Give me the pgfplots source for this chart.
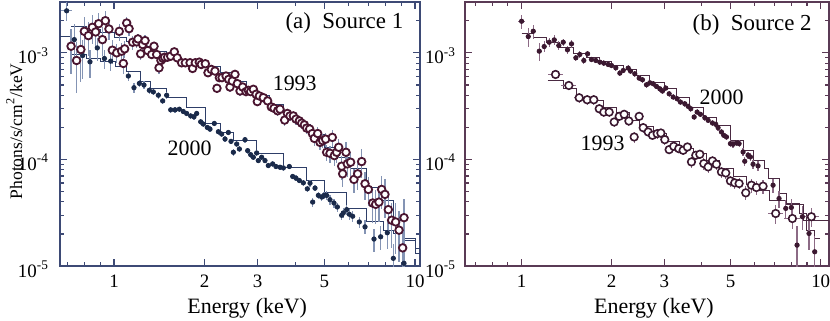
\documentclass[border=0pt]{standalone}
\usepackage{fontspec}
\setmainfont{Liberation Serif}
\usepackage{pgfplots}
\pgfplotsset{compat=1.18}

\definecolor{framea}{HTML}{3D4A75}
\definecolor{dota}{HTML}{1A2A4A}
\definecolor{circa}{HTML}{4A1530}
\definecolor{erra}{HTML}{8494B4}
\definecolor{moda}{HTML}{2E3E68}
\definecolor{frameb}{HTML}{5A3A55}
\definecolor{dotb}{HTML}{3B1830}
\definecolor{errb}{HTML}{8C6A85}
\definecolor{modb}{HTML}{4A2A42}

\begin{document}
\begin{tikzpicture}
\path[use as bounding box] (0,0) rectangle (415bp,160.5bp);

% (a) Source 1
\begin{axis}[
  xmode=log, ymode=log, scale only axis,
  at={(30bp,27.5bp)}, anchor=south west, width=180bp, height=132bp,
  xmin=0.6615, xmax=10.39, ymin=1e-5, ymax=3e-3,
  xtick={1,2,3,5,10}, xticklabels={1,2,3,5,10},
  minor xtick={0.7,0.8,0.9,4,6,7,8,9},
  ytick={1e-5,1e-4,1e-3},
  yticklabels={10\textsuperscript{-5},10\textsuperscript{-4},10\textsuperscript{-3}},
  minor ytick={2e-5,3e-5,4e-5,5e-5,6e-5,7e-5,8e-5,9e-5,2e-4,3e-4,4e-4,5e-4,6e-4,7e-4,8e-4,9e-4,2e-3},
  tick align=inside, major tick length=3.3bp, minor tick length=1.8bp,
  axis line style={framea, line width=0.8bp},
  tick style={framea, line width=0.6bp},
  xticklabel style={font=\fontsize{9.5}{11}\selectfont, yshift=-1bp},
  yticklabel style={font=\fontsize{9.5}{11}\selectfont, xshift=-2bp, yshift=-1.5bp},
  xlabel={Energy (keV)},
  xlabel style={font=\fontsize{11}{13}\selectfont, at={(axis description cs:0.52,0)}, anchor=center, yshift=-21bp},
  ylabel={Photons/s/cm\textsuperscript{2}/keV},
  ylabel style={font=\fontsize{8.8}{10}\selectfont, at={(axis description cs:-0.127,0.51)}, anchor=center},
]
% models
\addplot[const plot, moda, line width=0.5bp] coordinates {
(0.720,1.773e-3) (0.811,1.651e-3) (0.899,1.537e-3) (1.003,1.380e-3) (1.102,1.285e-3)
(1.220,1.154e-3) (1.351,1.037e-3) (1.496,9.31e-4) (1.657,8.67e-4) (1.835,8.07e-4)
(2.011,7.51e-4) (2.250,6.51e-4) (2.492,5.44e-4) (2.760,4.55e-4) (2.978,3.94e-4)
(3.298,3.30e-4) (3.653,2.66e-4) (4.046,2.145e-4) (4.479,1.73e-4) (4.986,1.30e-4)
(5.492,1.048e-4) (6.083,8.15e-5) (6.910,5.50e-5) (7.651,4.13e-5) (8.472,2.69e-5)
(9.146,1.75e-5) (10.0,1.31e-5) (10.4,1.31e-5)};
\addplot[const plot, moda, line width=0.5bp] coordinates {
(0.662,1.431e-3) (0.720,9.65e-4) (0.811,8.85e-4) (0.899,8.36e-4) (1.008,7.51e-4)
(1.102,6.65e-4) (1.220,5.44e-4) (1.317,4.65e-4) (1.496,3.80e-4) (1.743,3.10e-4)
(2.011,2.176e-4) (2.250,1.79e-4) (2.492,1.50e-4) (2.978,1.125e-4) (3.653,8.45e-5)
(4.365,6.34e-5) (4.986,4.94e-5) (5.929,3.45e-5) (6.910,2.59e-5) (7.849,2.17e-5)
(8.472,2.02e-5) (9.146,1.81e-5) (10.0,1.46e-5) (10.4,1.46e-5)};
% 2000
\addplot[only marks, mark=*, mark size=1.1bp, mark options={dota},
  error bars/.cd, x dir=both, x explicit relative, y dir=both, y explicit relative,
  error mark=none, error bar style={erra, line width=0.6bp}] coordinates {
(0.696,2.48e-3) +- (0.04,0.2)
(0.738,1.331e-3) +- (0.015,0.4)
(0.787,9.44e-4) +- (0.015,0.4)
(0.832,8.24e-4) +- (0.015,0.3)
(0.880,1.113e-3) +- (0.015,0.25)
(0.929,8.85e-4) +- (0.015,0.2)
(0.975,8.36e-4) +- (0.015,0.2)
(1.116,6.06e-4) +- (0.015,0.1)
(1.165,4.71e-4) +- (0.015,0.1)
(1.214,5.17e-4) +- (0.015,0.08)
(1.258,4.99e-4) +- (0.015,0.08)
(1.310,4.45e-4) +- (0.015,0.07)
(1.351,4.30e-4) +- (0.015,0.07)
(1.404,4.00e-4) +- (0.015,0.07)
(1.451,3.54e-4) +- (0.015,0.07)
(1.496,4.00e-4) +- (0.015,0.07)
(1.543,2.92e-4) +- (0.015,0.06)
(1.595,2.92e-4) +- (0.015,0.06)
(1.648,2.96e-4) +- (0.015,0.06)
(1.699,2.815e-4) +- (0.015,0.06)
(1.743,2.70e-4) +- (0.015,0.06)
(1.798,2.56e-4) +- (0.015,0.06)
(1.844,2.51e-4) +- (0.015,0.06)
(1.882,2.70e-4) +- (0.015,0.06)
(1.941,2.255e-4) +- (0.015,0.06)
(1.981,2.145e-4) +- (0.015,0.06)
(2.042,1.995e-4) +- (0.015,0.06)
(2.084,1.926e-4) +- (0.015,0.06)
(2.154,2.176e-4) +- (0.015,0.06)
(2.222,1.82e-4) +- (0.015,0.06)
(2.279,1.73e-4) +- (0.015,0.06)
(2.338,1.553e-4) +- (0.015,0.06)
(2.398,1.79e-4) +- (0.015,0.06)
(2.447,1.477e-4) +- (0.015,0.06)
(2.492,1.167e-4) +- (0.015,0.07)
(2.556,1.395e-4) +- (0.015,0.06)
(2.609,1.253e-4) +- (0.015,0.06)
(2.724,1.532e-4) +- (0.015,0.06)
(2.780,1.209e-4) +- (0.015,0.06)
(2.844,1.109e-4) +- (0.015,0.06)
(2.903,1.048e-4) +- (0.015,0.06)
(2.978,1.15e-4) +- (0.015,0.06)
(3.016,9.75e-5) +- (0.015,0.06)
(3.094,1.048e-4) +- (0.015,0.06)
(3.174,9.75e-5) +- (0.015,0.06)
(3.256,8.76e-5) +- (0.015,0.06)
(3.366,9.08e-5) +- (0.015,0.06)
(3.452,8.58e-5) +- (0.015,0.06)
(3.561,8.45e-5) +- (0.015,0.06)
(3.653,8.33e-5) +- (0.015,0.06)
(3.824,8.58e-5) +- (0.015,0.06)
(3.923,6.92e-5) +- (0.015,0.06)
(4.024,6.67e-5) +- (0.015,0.06)
(4.128,6.34e-5) +- (0.015,0.06)
(4.256,6.03e-5) +- (0.015,0.07)
(4.388,5.30e-5) +- (0.015,0.07)
(4.479,5.99e-5) +- (0.015,0.07)
(4.571,3.98e-5) +- (0.015,0.1)
(4.654,5.38e-5) +- (0.015,0.07)
(4.774,4.60e-5) +- (0.015,0.08)
(4.898,4.43e-5) +- (0.015,0.08)
(4.986,4.60e-5) +- (0.015,0.08)
(5.087,4.60e-5) +- (0.015,0.1)
(5.218,4.19e-5) +- (0.015,0.1)
(5.381,3.90e-5) +- (0.015,0.1)
(5.521,3.58e-5) +- (0.015,0.1)
(5.706,2.99e-5) +- (0.015,0.1)
(5.779,3.15e-5) +- (0.015,0.1)
(5.929,3.38e-5) +- (0.015,0.1)
(6.050,3.06e-5) +- (0.015,0.12)
(6.207,2.93e-5) +- (0.015,0.12)
(6.531,2.59e-5) +- (0.015,0.12)
(6.823,2.33e-5) +- (0.015,0.15)
(7.308,1.79e-5) +- (0.015,0.25)
(7.690,1.88e-5) +- (0.015,0.25)
(8.091,2.05e-5) +- (0.015,0.3)
(8.472,1.18e-5) +- (0.015,0.35)
(9.194,1.06e-5) +- (0.015,0.4)
};
% 1993
\addplot[only marks, mark=*, mark size=1.9bp, mark options={draw=circa, fill=white, line width=0.9bp},
  error bars/.cd, x dir=both, x explicit relative, y dir=both, y explicit relative,
  error mark=none, error bar style={erra, line width=0.6bp}] coordinates {
(0.720,1.154e-3) +- (0.015,0.45)
(0.751,8.48e-4) +- (0.015,0.5)
(0.776,1.074e-3) +- (0.015,0.5)
(0.797,1.592e-3) +- (0.015,0.35)
(0.822,1.451e-3) +- (0.015,0.35)
(0.847,1.736e-3) +- (0.015,0.3)
(0.869,1.570e-3) +- (0.015,0.3)
(0.889,1.878e-3) +- (0.015,0.25)
(0.915,1.331e-3) +- (0.015,0.3)
(0.936,2.003e-3) +- (0.015,0.22)
(0.962,1.675e-3) +- (0.015,0.22)
(0.987,1.059e-3) +- (0.015,0.25)
(1.021,1.000e-3) +- (0.015,0.2)
(1.041,1.592e-3) +- (0.015,0.18)
(1.060,1.037e-3) +- (0.015,0.2)
(1.074,7.95e-4) +- (0.015,0.2)
(1.085,1.090e-3) +- (0.015,0.18)
(1.102,1.905e-3) +- (0.015,0.15)
(1.122,1.687e-3) +- (0.015,0.15)
(1.153,1.257e-3) +- (0.015,0.15)
(1.189,1.266e-3) +- (0.015,0.12)
(1.201,1.351e-3) +- (0.015,0.12)
(1.226,9.79e-4) +- (0.015,0.12)
(1.245,1.196e-3) +- (0.015,0.12)
(1.268,1.303e-3) +- (0.015,0.12)
(1.294,1.051e-3) +- (0.015,0.12)
(1.334,9.65e-4) +- (0.015,0.1)
(1.358,1.154e-3) +- (0.015,0.1)
(1.386,9.65e-4) +- (0.015,0.1)
(1.411,7.24e-4) +- (0.015,0.12)
(1.432,8.48e-4) +- (0.015,0.1)
(1.455,8.85e-4) +- (0.015,0.1)
(1.473,9.11e-4) +- (0.015,0.1)
(1.507,9.11e-4) +- (0.015,0.08)
(1.543,9.31e-4) +- (0.015,0.08)
(1.586,1.022e-3) +- (0.015,0.08)
(1.622,8.98e-4) +- (0.015,0.08)
(1.677,8.07e-4) +- (0.015,0.08)
(1.726,8.07e-4) +- (0.015,0.08)
(1.789,8.07e-4) +- (0.015,0.08)
(1.824,7.14e-4) +- (0.015,0.08)
(1.862,8.07e-4) +- (0.015,0.08)
(1.920,8.18e-4) +- (0.015,0.08)
(1.950,7.78e-4) +- (0.015,0.08)
(2.011,7.90e-4) +- (0.015,0.08)
(2.052,6.51e-4) +- (0.015,0.08)
(2.105,6.99e-4) +- (0.015,0.08)
(2.165,6.75e-4) +- (0.015,0.08)
(2.198,4.65e-4) +- (0.015,0.1)
(2.239,5.85e-4) +- (0.015,0.08)
(2.285,5.85e-4) +- (0.015,0.08)
(2.356,6.06e-4) +- (0.015,0.08)
(2.404,5.64e-4) +- (0.015,0.08)
(2.428,4.78e-4) +- (0.015,0.1)
(2.472,5.44e-4) +- (0.015,0.08)
(2.523,6.28e-4) +- (0.015,0.08)
(2.569,5.14e-4) +- (0.015,0.08)
(2.622,4.39e-4) +- (0.015,0.1)
(2.676,4.78e-4) +- (0.015,0.08)
(2.745,4.33e-4) +- (0.015,0.1)
(2.795,4.45e-4) +- (0.015,0.1)
(2.844,4.33e-4) +- (0.015,0.1)
(2.904,4.55e-4) +- (0.015,0.1)
(2.965,4.09e-4) +- (0.015,0.1)
(2.993,3.49e-4) +- (0.015,0.1)
(3.040,3.94e-4) +- (0.015,0.1)
(3.133,3.80e-4) +- (0.015,0.1)
(3.239,3.54e-4) +- (0.015,0.1)
(3.331,3.11e-4) +- (0.015,0.1)
(3.401,3.02e-4) +- (0.015,0.1)
(3.497,2.86e-4) +- (0.015,0.1)
(3.561,2.96e-4) +- (0.015,0.1)
(3.690,2.34e-4) +- (0.015,0.12)
(3.767,2.70e-4) +- (0.015,0.1)
(3.843,2.56e-4) +- (0.015,0.1)
(3.943,2.56e-4) +- (0.015,0.1)
(4.024,2.39e-4) +- (0.015,0.12)
(4.128,2.30e-4) +- (0.015,0.12)
(4.203,2.19e-4) +- (0.015,0.12)
(4.290,2.11e-4) +- (0.015,0.12)
(4.365,1.97e-4) +- (0.015,0.12)
(4.467,1.93e-4) +- (0.015,0.12)
(4.560,1.75e-4) +- (0.015,0.15)
(4.630,1.575e-4) +- (0.015,0.15)
(4.751,1.75e-4) +- (0.015,0.15)
(4.836,1.445e-4) +- (0.015,0.15)
(4.933,1.50e-4) +- (0.015,0.15)
(5.048,1.55e-4) +- (0.015,0.15)
(5.087,1.167e-4) +- (0.015,0.18)
(5.218,1.141e-4) +- (0.015,0.18)
(5.312,1.61e-4) +- (0.015,0.18)
(5.395,1.086e-4) +- (0.015,0.2)
(5.492,1.167e-4) +- (0.015,0.2)
(5.577,1.30e-4) +- (0.015,0.2)
(5.706,8.64e-5) +- (0.015,0.25)
(5.750,7.33e-5) +- (0.015,0.25)
(5.898,1.167e-4) +- (0.015,0.25)
(5.958,9.08e-5) +- (0.015,0.25)
(6.112,9.41e-5) +- (0.015,0.25)
(6.270,6.49e-5) +- (0.015,0.25)
(6.450,7.33e-5) +- (0.015,0.3)
(6.650,9.55e-5) +- (0.015,0.3)
(6.823,5.91e-5) +- (0.015,0.3)
(6.998,5.23e-5) +- (0.015,0.3)
(7.234,3.90e-5) +- (0.015,0.35)
(7.401,3.79e-5) +- (0.015,0.35)
(7.591,3.98e-5) +- (0.015,0.35)
(7.749,5.23e-5) +- (0.015,0.35)
(7.948,4.70e-5) +- (0.015,0.4)
(8.153,3.38e-5) +- (0.015,0.4)
(8.364,2.69e-5) +- (0.015,0.45)
(8.625,2.59e-5) +- (0.015,0.5)
(8.849,2.17e-5) +- (0.015,0.5)
(9.099,1.48e-5) +- (0.015,0.55)
(9.194,2.84e-5) +- (0.015,0.5)
};
\node[font=\fontsize{11.5}{13}\selectfont] at (rel axis cs:0.79,0.919) {(a)~~Source 1};
\node[font=\fontsize{11}{13}\selectfont] at (rel axis cs:0.652,0.692) {1993};
\node[font=\fontsize{11}{13}\selectfont] at (rel axis cs:0.360,0.446) {2000};
\end{axis}

% (b) Source 2
\begin{axis}[
  xmode=log, ymode=log, scale only axis,
  at={(232.5bp,27.5bp)}, anchor=south west, width=182bp, height=132bp,
  xmin=0.647, xmax=10.66, ymin=1e-5, ymax=3e-3,
  xtick={1,2,3,5,10}, xticklabels={1,2,3,5,10},
  minor xtick={0.7,0.8,0.9,4,6,7,8,9},
  ytick={1e-5,1e-4,1e-3},
  yticklabels={10\textsuperscript{-5},10\textsuperscript{-4},10\textsuperscript{-3}},
  minor ytick={2e-5,3e-5,4e-5,5e-5,6e-5,7e-5,8e-5,9e-5,2e-4,3e-4,4e-4,5e-4,6e-4,7e-4,8e-4,9e-4,2e-3},
  tick align=inside, major tick length=3.3bp, minor tick length=1.8bp,
  axis line style={frameb, line width=0.8bp},
  tick style={frameb, line width=0.6bp},
  xticklabel style={font=\fontsize{9.5}{11}\selectfont, yshift=-1bp},
  yticklabel style={font=\fontsize{9.5}{11}\selectfont, xshift=-1bp, yshift=-1.5bp},
  xlabel={Energy (keV)},
  xlabel style={font=\fontsize{11}{13}\selectfont, at={(axis description cs:0.519,0)}, anchor=center, yshift=-21bp},
]
\addplot[const plot, modb, line width=0.5bp] coordinates {
(1.000,1.506e-3) (1.094,1.382e-3) (1.212,1.258e-3) (1.343,1.130e-3) (1.488,9.79e-4)
(1.649,8.98e-4) (1.827,8.30e-4) (1.998,7.61e-4) (2.186,6.93e-4) (2.423,6.13e-4)
(2.684,5.31e-4) (2.997,4.60e-4) (3.295,3.85e-4) (3.650,3.10e-4) (4.046,2.50e-4)
(4.482,2.088e-4) (4.991,1.512e-4) (5.502,1.218e-4) (5.941,9.82e-5) (6.500,8.21e-5)
(6.668,6.62e-5) (7.257,4.79e-5) (7.680,3.86e-5) (8.508,3.11e-5) (8.957,2.17e-5)
(9.550,1.82e-5) (9.924,1.82e-5)};
\addplot[const plot, modb, line width=0.5bp] coordinates {
(1.221,5.51e-4) (1.378,4.60e-4) (1.527,3.85e-4) (1.692,3.58e-4) (1.874,3.10e-4)
(2.077,2.78e-4) (2.301,2.326e-4) (2.486,2.044e-4) (2.754,1.745e-4) (3.051,1.458e-4)
(3.381,1.263e-4) (3.746,1.134e-4) (4.150,9.82e-5) (4.598,8.21e-5) (5.094,6.86e-5)
(5.645,5.86e-5) (6.255,5.14e-5) (6.754,4.15e-5) (7.680,3.80e-5) (8.730,2.70e-5)
(10.66,2.70e-5)};
% 2000
\addplot[only marks, mark=*, mark size=1.1bp, mark options={dotb},
  error bars/.cd, x dir=both, x explicit relative, y dir=both, y explicit relative,
  error mark=none, error bar style={errb, line width=0.6bp}] coordinates {
(1.000,1.979e-3) +- (0.03,0.15)
(1.053,1.422e-3) +- (0.02,0.2)
(1.094,1.595e-3) +- (0.02,0.15)
(1.146,1.037e-3) +- (0.02,0.2)
(1.190,1.146e-3) +- (0.02,0.12)
(1.237,1.258e-3) +- (0.02,0.1)
(1.286,1.323e-3) +- (0.02,0.1)
(1.332,1.171e-3) +- (0.02,0.1)
(1.378,1.258e-3) +- (0.02,0.08)
(1.424,1.067e-3) +- (0.02,0.08)
(1.469,1.214e-3) +- (0.02,0.08)
(1.519,8.98e-4) +- (0.015,0.07)
(1.566,9.65e-4) +- (0.015,0.07)
(1.615,8.48e-4) +- (0.015,0.07)
(1.662,9.79e-4) +- (0.015,0.07)
(1.713,8.66e-4) +- (0.015,0.06)
(1.771,8.48e-4) +- (0.015,0.06)
(1.827,8.18e-4) +- (0.015,0.06)
(1.884,8.00e-4) +- (0.015,0.06)
(1.948,7.78e-4) +- (0.015,0.06)
(1.998,7.61e-4) +- (0.015,0.06)
(2.066,7.24e-4) +- (0.015,0.06)
(2.131,6.45e-4) +- (0.015,0.06)
(2.186,6.83e-4) +- (0.015,0.06)
(2.272,7.19e-4) +- (0.015,0.06)
(2.313,6.74e-4) +- (0.015,0.06)
(2.391,6.36e-4) +- (0.015,0.06)
(2.472,5.79e-4) +- (0.015,0.06)
(2.536,5.59e-4) +- (0.015,0.06)
(2.616,5.02e-4) +- (0.015,0.06)
(2.684,5.24e-4) +- (0.015,0.06)
(2.754,5.13e-4) +- (0.015,0.06)
(2.825,4.84e-4) +- (0.015,0.06)
(2.899,4.60e-4) +- (0.015,0.06)
(2.958,4.38e-4) +- (0.015,0.06)
(3.035,4.67e-4) +- (0.015,0.06)
(3.114,4.13e-4) +- (0.015,0.06)
(3.212,3.85e-4) +- (0.015,0.06)
(3.311,3.71e-4) +- (0.015,0.06)
(3.397,3.45e-4) +- (0.015,0.06)
(3.513,3.33e-4) +- (0.015,0.06)
(3.604,3.15e-4) +- (0.015,0.06)
(3.679,2.99e-4) +- (0.015,0.06)
(3.775,2.50e-4) +- (0.015,0.07)
(3.863,2.78e-4) +- (0.015,0.06)
(3.963,2.65e-4) +- (0.015,0.06)
(4.098,2.465e-4) +- (0.015,0.06)
(4.204,2.326e-4) +- (0.015,0.06)
(4.346,2.196e-4) +- (0.015,0.06)
(4.459,2.134e-4) +- (0.015,0.06)
(4.539,1.986e-4) +- (0.015,0.06)
(4.657,1.810e-4) +- (0.015,0.06)
(4.742,1.684e-4) +- (0.015,0.06)
(4.840,1.624e-4) +- (0.015,0.06)
(4.991,1.407e-4) +- (0.015,0.07)
(5.094,1.387e-4) +- (0.015,0.07)
(5.228,1.427e-4) +- (0.015,0.07)
(5.336,1.407e-4) +- (0.015,0.07)
(5.502,1.175e-4) +- (0.015,0.08)
(5.573,9.61e-5) +- (0.015,0.1)
(5.717,1.094e-4) +- (0.015,0.08)
(5.821,1.055e-4) +- (0.015,0.08)
(5.941,9.01e-5) +- (0.015,0.1)
(6.174,8.70e-5) +- (0.015,0.1)
(6.930,5.73e-5) +- (0.015,0.15)
(7.257,4.30e-5) +- (0.015,0.18)
(7.642,3.47e-5) +- (0.015,0.2)
(7.980,3.54e-5) +- (0.015,0.2)
(8.336,1.57e-5) +- (0.015,0.5)
(8.686,2.90e-5) +- (0.015,0.25)
(9.141,2.02e-5) +- (0.015,0.3)
(9.550,1.36e-5) +- (0.015,0.4)
};
% 1993
\addplot[only marks, mark=*, mark size=1.9bp, mark options={draw=dotb, fill=white, line width=0.8bp},
  error bars/.cd, x dir=both, x explicit relative, y dir=both, y explicit relative,
  error mark=none, error bar style={errb, line width=0.6bp}] coordinates {
(1.299,6.27e-4) +- (0.06,0.1)
(1.439,4.94e-4) +- (0.06,0.1)
(1.558,3.79e-4) +- (0.04,0.1)
(1.657,3.63e-4) +- (0.03,0.1)
(1.744,3.63e-4) +- (0.03,0.1)
(1.818,2.99e-4) +- (0.03,0.1)
(1.884,2.78e-4) +- (0.025,0.1)
(1.963,2.78e-4) +- (0.025,0.1)
(2.040,2.244e-4) +- (0.025,0.1)
(2.120,2.535e-4) +- (0.025,0.1)
(2.203,2.650e-4) +- (0.025,0.1)
(2.284,2.293e-4) +- (0.025,0.1)
(2.379,1.624e-4) +- (0.025,0.12)
(2.472,2.535e-4) +- (0.025,0.1)
(2.550,1.986e-4) +- (0.025,0.1)
(2.650,1.810e-4) +- (0.025,0.1)
(2.739,1.684e-4) +- (0.025,0.1)
(2.840,1.745e-4) +- (0.025,0.1)
(2.922,1.770e-4) +- (0.025,0.1)
(3.012,1.533e-4) +- (0.025,0.1)
(3.114,1.236e-4) +- (0.025,0.1)
(3.227,1.328e-4) +- (0.025,0.1)
(3.354,1.263e-4) +- (0.025,0.1)
(3.468,1.218e-4) +- (0.025,0.1)
(3.585,1.309e-4) +- (0.025,0.1)
(3.698,9.48e-5) +- (0.025,0.12)
(3.823,1.094e-4) +- (0.025,0.1)
(3.944,1.118e-4) +- (0.025,0.1)
(4.067,9.14e-5) +- (0.025,0.12)
(4.204,8.51e-5) +- (0.025,0.12)
(4.346,9.68e-5) +- (0.025,0.12)
(4.482,9.01e-5) +- (0.025,0.12)
(4.657,7.64e-5) +- (0.025,0.12)
(4.815,7.47e-5) +- (0.025,0.12)
(4.991,6.29e-5) +- (0.025,0.12)
(5.160,6.03e-5) +- (0.025,0.12)
(5.336,5.94e-5) +- (0.025,0.12)
(5.617,4.86e-5) +- (0.025,0.15)
(5.866,5.73e-5) +- (0.025,0.15)
(6.097,5.45e-5) +- (0.025,0.15)
(6.417,5.61e-5) +- (0.03,0.15)
(7.073,3.11e-5) +- (0.06,0.2)
(8.041,2.79e-5) +- (0.06,0.2)
(9.307,2.90e-5) +- (0.06,0.2)
};
\node[font=\fontsize{11.5}{13}\selectfont] at (rel axis cs:0.789,0.913) {(b)~~Source 2};
\node[font=\fontsize{11}{13}\selectfont] at (rel axis cs:0.705,0.639) {2000};
\node[font=\fontsize{11}{13}\selectfont] at (rel axis cs:0.378,0.465) {1993};
\end{axis}
\end{tikzpicture}
\end{document}
